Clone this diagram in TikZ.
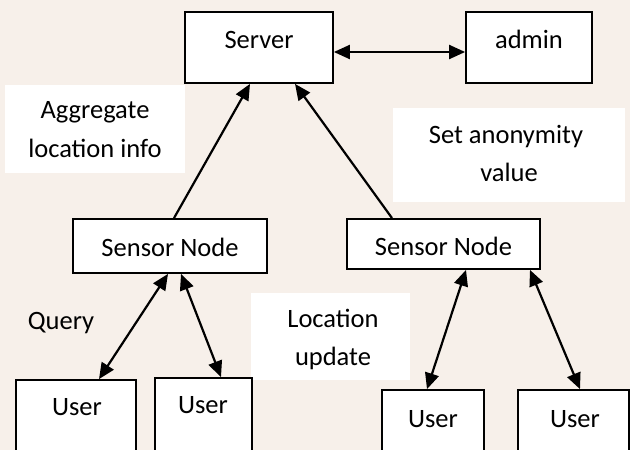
\documentclass[tikz,border=0pt]{standalone}
\usepackage{fontspec}
\setmainfont{Carlito}
\usetikzlibrary{arrows.meta}
\definecolor{bgc}{RGB}{247,240,234}
\begin{document}
\begin{tikzpicture}[x=1pt,y=-1pt,
  box/.style={draw=black, line width=1.8pt, fill=white, inner sep=0pt},
  txt/.style={font=\fontsize{26.5}{30}\selectfont, inner sep=0pt, text=black, anchor=base},
  lbl/.style={fill=white, draw=none, inner sep=0pt},
  arr/.style={line width=2.2pt, -{Triangle[length=16pt,width=14pt]}},
  darr/.style={line width=2.2pt, {Triangle[length=16pt,width=14pt]}-{Triangle[length=16pt,width=14pt]}}]
\clip (0,0) rectangle (630,450);
\fill[bgc] (0,0) rectangle (630,450);
% white label backgrounds
\node[lbl, minimum width=180pt, minimum height=88pt] (aggbg) at (95,129) {};
\node[lbl, minimum width=232pt, minimum height=94pt] (setbg) at (509,155) {};
\node[lbl, minimum width=159pt, minimum height=87pt] (locbg) at (330.5,336.5) {};
% boxes
\node[box, minimum width=148pt, minimum height=71pt] (server) at (259,47.5) {};
\node[box, minimum width=126pt, minimum height=71pt] (admin) at (529,47.5) {};
\node[box, minimum width=194pt, minimum height=54pt] (sensorL) at (170,246) {};
\node[box, minimum width=193pt, minimum height=50pt] (sensorR) at (443.5,244) {};
\node[box, minimum width=120pt, minimum height=80pt] (userA) at (76,420) {};
\node[box, minimum width=97pt, minimum height=82pt] (userB) at (203.5,419) {};
\node[box, minimum width=102pt, minimum height=70pt] (userC) at (433,425) {};
\node[box, minimum width=111pt, minimum height=70pt] (userD) at (573.5,425) {};
% texts
\node[txt] (serverT) at (259,48) {Server};
\node[txt] (adminT) at (529,48) {admin};
\node[txt] (sensorLT) at (170,256) {Sensor Node};
\node[txt] (sensorRT) at (443.5,255) {Sensor Node};
\node[txt] (userAT) at (77,415) {User};
\node[txt] (userBT) at (203,413) {User};
\node[txt] (userCT) at (433,427) {User};
\node[txt] (userDT) at (575,427) {User};
\node[txt] (agg1) at (95,118) {Aggregate};
\node[txt] (agg2) at (95,157) {location info};
\node[txt] (set1) at (506,143) {Set anonymity};
\node[txt] (set2) at (509,181) {value};
\node[txt] (query) at (61,329) {Query};
\node[txt] (loc1) at (333,327) {Location};
\node[txt] (loc2) at (333,365) {update};
% connectors
\draw[darr] ([yshift=-4.5pt]server.east) -- ([yshift=-4.5pt]admin.west);
\draw[arr] ([xshift=4pt]sensorL.north) -- ([xshift=-9pt]server.south);
\draw[arr] ([xshift=-51.5pt]sensorR.north) -- ([xshift=36pt]server.south);
\draw[darr] ([xshift=-2pt]sensorL.south) -- ([xshift=23pt]userA.north);
\draw[darr] ([xshift=11pt]sensorL.south) -- ([xshift=17.5pt]userB.north);
\draw[darr] ([xshift=22.5pt]sensorR.south) -- ([xshift=-6pt]userC.north);
\draw[darr] ([xshift=86.5pt]sensorR.south) -- ([xshift=6.5pt]userD.north);
\end{tikzpicture}
\end{document}
